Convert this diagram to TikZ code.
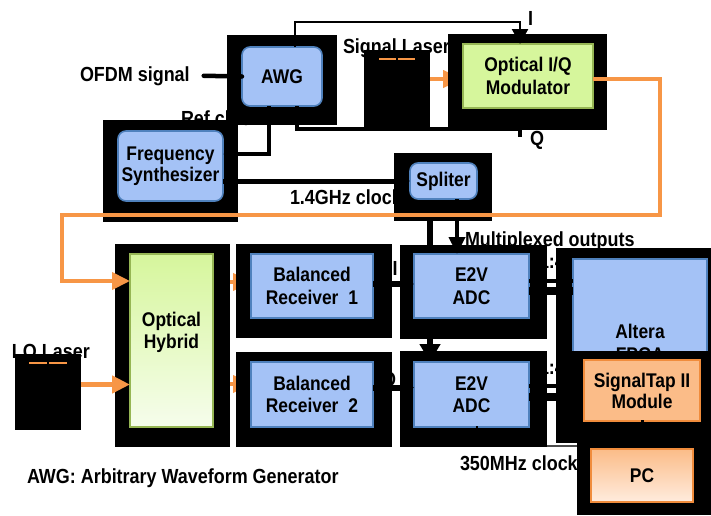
\documentclass[tikz,border=0pt]{standalone}
\usepackage{fontspec}
\setmainfont{Liberation Sans}[FakeStretch=0.88]
\usetikzlibrary{arrows.meta,calc}
\pgfdeclarelayer{bg}
\pgfdeclarelayer{fg}
\pgfsetlayers{bg,main,fg}
\definecolor{bfill}{RGB}{164,194,246}
\definecolor{bline}{RGB}{79,129,189}
\definecolor{gfill}{RGB}{214,246,156}
\definecolor{gline}{RGB}{150,182,84}
\definecolor{glight}{RGB}{246,253,236}
\definecolor{ofill}{RGB}{251,188,136}
\definecolor{oline}{RGB}{240,140,60}
\definecolor{olight}{RGB}{255,236,222}
\definecolor{oarr}{RGB}{247,150,70}
\begin{document}
\begin{tikzpicture}[x=1pt,y=-1pt,
  every node/.style={font=\fontsize{19.8}{22.5}\selectfont\bfseries, inner sep=0pt, outer sep=0pt},
  lbl/.style={anchor=base west, font=\fontsize{20.4}{22}\selectfont\bfseries},
  inbox/.style={draw, line width=1.6pt, align=center},
  bluebox/.style={inbox, draw=bline, fill=bfill},
  rblue/.style={bluebox, rounded corners=8pt},
  greenbox/.style={inbox, draw=gline, fill=gfill},
  orangebox/.style={inbox, draw=oline, fill=ofill},
  frame/.style={fill=black},
  laser/.style={fill=black, draw=none},
  conn/.style={line width=3pt},
  oconn/.style={draw=oarr, line width=4.5pt},
  ohead/.style={-{Triangle[length=18pt,width=17pt]}},
]
\useasboundingbox (0,0) rectangle (711,515);

% ---------- frames and boxes (main layer) ----------
\fill[frame] (227,35) rectangle (337,125);
\node[rblue, minimum width=80pt, minimum height=59pt] (awg) at (282,76.5) {AWG};

\node[laser, minimum width=66pt, minimum height=77pt] (sl) at (397,88.5) {};

\fill[frame] (448,34) rectangle (607,130);
\node[greenbox, minimum width=130pt, minimum height=64pt] (iq) at (528,76) {Optical I/Q\\Modulator};

\fill[frame] (103,120) rectangle (238,222);
\node[rblue, minimum width=105pt, minimum height=70pt, font=\fontsize{19.8}{20.5}\selectfont\bfseries] (fs) at (170.5,166) {Frequency\\Synthesizer};

\fill[frame] (394,153) rectangle (492,221);
\node[rblue, minimum width=67pt, minimum height=36pt] (sp) at (443.5,181) {Spliter};

\fill[frame] (115,244) rectangle (230,447);
\node[greenbox, top color=gfill, middle color=gfill!80!glight, bottom color=glight, minimum width=83pt, minimum height=173pt] (oh) at (171.5,340.5) {};
\node[align=center] (ohtxt) at (171.5,332.5) {Optical\\Hybrid};

\node[laser, minimum width=66pt, minimum height=76pt] (lo) at (48,392) {};

\fill[frame] (236,244) rectangle (392,338);
\node[bluebox, minimum width=122pt, minimum height=64pt] (br1) at (312,286) {Balanced\\Receiver\enspace 1};
\fill[frame] (236,352) rectangle (392,447);
\node[bluebox, minimum width=122pt, minimum height=65pt] (br2) at (312,394.5) {Balanced\\Receiver\enspace 2};

\fill[frame] (400,245) rectangle (547,339);
\node[bluebox, minimum width=115pt, minimum height=64pt] (adc1) at (471.5,286) {E2V\\ADC};
\fill[frame] (400,351) rectangle (547,447);
\node[bluebox, minimum width=115pt, minimum height=65pt] (adc2) at (471.5,394.5) {E2V\\ADC};

\fill[frame] (556,248) rectangle (711,443);
\node[bluebox, minimum width=134pt, minimum height=168pt] (fpga) at (640,343) {Altera\\FPGA};
\fill[frame] (569,351) rectangle (711,432);
\node[orangebox, minimum width=116pt, minimum height=61pt, font=\fontsize{19.8}{21}\selectfont\bfseries] (stap) at (642,390.5) {SignalTap II\\Module};
\fill[frame] (577,432) rectangle (711,515);
\node[orangebox, top color=ofill, bottom color=olight, minimum width=102pt, minimum height=53pt] (pc) at (642,475.5) {PC};

% ---------- visible labels ----------
\node[lbl] (ofdm) at (80,81) {OFDM signal};
\node[lbl] (itop) at (528,25) {I};
\node[lbl] (qtop) at (530,145) {Q};
\node[lbl] (legend) at (27,483) {AWG: Arbitrary Waveform Generator};

% ---------- background layer: covered labels and hidden connectors ----------
\begin{pgfonlayer}{bg}
\fill[white] (0,0) rectangle (711,515);
\node[lbl] (siglbl) at (343,53) {Signal Laser};
\node[lbl] (reflbl) at (181,125) {Ref clock};
\node[lbl] (lolbl) at (12,358) {LO Laser};
\node[lbl] (c14) at (290,204) {1.4GHz clock};
\node[lbl] (mux) at (465,246) {Multiplexed outputs};
\node[lbl] (c350) at (460,470) {350MHz clock};
\node[lbl] (ilbl) at (392.5,275) {I};
\node[lbl] (qlbl) at (382,386) {Q};
\node[lbl] (r1) at (539,268) {1:4};
\node[lbl] (r2) at (539,374) {1:4};

\coordinate (s2) at ([xshift=-13.5pt]sp.south);
\draw[line width=6pt, -{Triangle[length=18pt,width=20pt]}] (s2) -- (s2 |- adc2.north);

\draw[oconn, line width=4pt, -{Triangle[length=20pt,width=17pt]}] ($(sl.east |- iq.west)+(0,3)$) -- ($(iq.west)+(0,3)$);
\draw[oconn, line width=4pt, ohead] ($(oh.east |- br1.west)+(0,-4)$) -- ($(br1.west)+(0,-4)$);
\draw[oconn, line width=4pt, ohead] ($(oh.east |- br2.west)+(0,-10.5)$) -- ($(br2.west)+(0,-10.5)$);

\coordinate (clkend) at (577,446);
\draw[line width=1.5pt, black!70] ($(adc2.south)+(5.5,0)$) |- (clkend);
\end{pgfonlayer}

% ---------- foreground layer: connectors on top ----------
\begin{pgfonlayer}{fg}
\draw[conn, line width=2.5pt, -{Triangle[length=15pt,width=16pt]}] ([xshift=13pt]awg.north) -- ++(0,-25) -| ([xshift=-8pt]iq.north);
\coordinate (qend) at (520,137);
\draw[conn, line width=3.5pt] ([xshift=15pt]awg.south) |- ($(qend)+(0,-8)$) -- (qend);
\draw[line width=4.5pt, line cap=round] ([xshift=14pt]ofdm.east) -- (awg.west);
\draw[line width=4pt, -{Triangle[length=14pt,width=14pt]}] ([xshift=-13pt]awg.south) |- ([yshift=12pt]fs.east);
\draw[line width=5pt, -{Triangle[length=12pt,width=14pt]}] ([yshift=-15pt]fs.east) -- (sp.west);
\coordinate (s1) at ([xshift=13.5pt]sp.south);
\draw[line width=4pt, -{Triangle[length=17pt,width=16pt]}] (s1) -- (s1 |- adc1.north);
\draw[line width=6pt, -{Triangle[length=12pt,width=14pt]}] ($(br1.east)+(0,-2)$) -- ($(adc1.west)+(0,-2)$);
\draw[line width=6pt, -{Triangle[length=12pt,width=14pt]}] ($(br2.east)+(0,-7)$) -- ($(adc2.west)+(0,-7)$);
\draw[line width=4pt] ($(adc1.east)+(0,-5)$) -- ($(adc1.east -| fpga.west)+(0,-5)$);
\draw[line width=8pt] ($(adc1.east)+(0,5)$) -- ($(adc1.east -| fpga.west)+(0,5)$);
\draw[line width=4pt] ($(adc2.east)+(0,-8.5)$) -- ($(adc2.east -| fpga.west)+(0,-8.5)$);
\draw[line width=8pt] ($(adc2.east)+(0,2)$) -- ($(adc2.east -| fpga.west)+(0,2)$);
\draw[line width=2pt] ($(adc2.south)+(5.5,-1)$) -- ++(0,4);
\draw[line width=3pt] ($(stap.south)+(0,-1)$) -- ($(pc.north)+(0,-4)$);

\coordinate (c1) at (660,215);
\coordinate (c2) at (62,281);
\draw[oconn, line width=4pt, ohead] ($(iq.east)+(0,3)$) -| (c1) -| (c2) -- (oh.west |- c2);
\draw[oconn, line width=5pt, ohead] ($(lo.east)+(0,-7.5)$) -- ($(oh.west |- lo.east)+(0,-7.5)$);

\draw[oarr, line width=1.5pt] ($(sl.north)+(-18,9)$) -- ($(sl.north)+(18,9)$);
\draw[black, line width=1.2pt] ($(sl.north)+(0,8)$) -- ++(0,3);
\draw[oarr, line width=1.5pt] ($(lo.north)+(-19,9)$) -- ($(lo.north)+(19,9)$);
\draw[black, line width=1.2pt] ($(lo.north)+(0,8)$) -- ++(0,3);
\end{pgfonlayer}
\end{tikzpicture}
\end{document}
